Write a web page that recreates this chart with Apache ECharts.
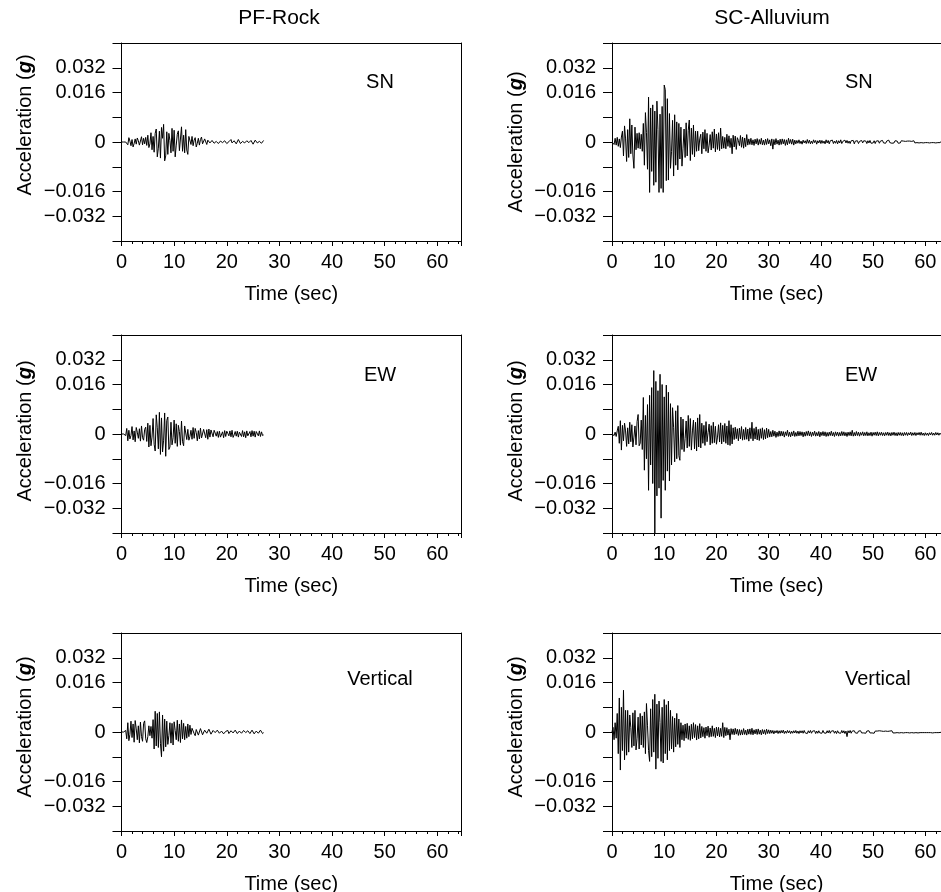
<!DOCTYPE html>
<html><head><meta charset="utf-8">
<script src="https://cdn.jsdelivr.net/npm/echarts@6/dist/echarts.min.js"></script>
<style>html,body{margin:0;padding:0;background:#fff}#c{width:941px;height:892px}</style>
</head><body><div id="c"></div><script>
// sample interval of the records (s)
const dt = 0.2;
// column titles and component names
const columnTitles = ['PF-Rock', 'SC-Alluvium'];
const componentNames = ['SN', 'EW', 'Vertical'];
// y tick values (units of 1e-4 g) and the labels printed at them
const yTickValues = [-240, -160, 0, 160, 240];
const yTickLabels = ['\u22120.032', '\u22120.016', '0', '0.016', '0.032'];
const xAxisName = 'Time (sec)';

// acceleration records, units of 1e-4 g, one value every dt seconds from t = 0
const pfRockSN = [0,0,0,0,0,
 6,-9,14,3,-12,8,-16,-5,10,-7,13,4,-10,-14,17,-9,12,-6,15,-11,
 22,-18,-6,30,-25,18,-33,28,
 42,-48,-20,35,-52,47,12,57,-61,-45,
 33,-40,28,5,-35,44,-30,38,-48,-10,25,36,-28,
 -24,49,-30,22,-35,40,-26,-40,18,
 15,-8,18,-12,6,14,-16,-4,12,-10,8,16,-6,-12,10,4,
 -8,6,9,-3,-7,5,8,-4,-6,2,7,-5,-8,3,9,-2,-6,4,7,-5,-9,1,6,8,-3,-7,4,5,-6,-4,
 8,3,-5,-7,2,6,-3,-8,4,9,-2,-6,5,3,-7,-4,6,8,-3,-5,2,7,-4,-2,5];

const pfRockEW = [0,0,0,2,-5,
 18,-22,12,-16,-5,24,-19,10,-25,21,6,-14,17,-23,26,-12,-20,15,22,-24,
 35,-42,28,-38,-10,50,-33,-55,
 62,20,-48,70,-66,52,-58,-20,68,-72,44,55,-50,
 -42,38,-35,-12,45,-30,33,-40,28,8,-36,42,-25,-38,26,
 22,-18,15,-20,-8,12,-17,21,-14,18,5,-22,11,-16,19,-13,-18,15,20,-12,14,-17,16,-10,13,
 10,-9,12,3,-7,8,-11,9,-10,-4,7,-12,11,-8,9,2,-6,10,-9,12,-11,-3,8,-7,9,
 -10,6,4,-8,11,-9,7,-12,10,-6,-2,8,-9,11,-7,9,-10,8,3,-6,10,-8,7,-5,-3];

const pfRockVertical = [0,0,0,0,
 5,-22,30,-28,-8,35,-18,26,-33,37,10,-25,20,-35,32,-15,-30,28,36,-22,-34,
 -15,20,-12,18,-20,
 40,-55,67,-45,60,
 -50,65,-38,-80,55,-62,42,-48,
 35,-40,-12,30,-36,28,-42,33,5,-25,38,-30,26,
 -34,39,-22,28,-25,18,-20,26,-15,22,
 -8,12,16,-5,-12,8,14,-10,-6,11,15,-9,-13,6,12,-4,-10,9,13,-7,
 -9,5,10,-2,-8,6,9,-4,-7,3,8,-6,-9,2,7,5,-5,-8,4,9,-3,-6,6,8,-5,
 -7,3,6,-4,-8,5,7,-2,-6,4,8,-5,-3,6,4,-6,-7,3,5,-4,-2,6,3,-5,-2];

const scAlluviumSN = [0,5,-8,12,-10,15,-14,10,-18,16,
 35,-45,52,10,-63,40,-50,75,-38,55,-42,-85,48,
 -25,28,-20,30,-22,25,-30,
 60,-75,95,30,-88,145,-163,110,-95,120,
 -140,100,-130,132,40,-163,90,-150,115,-163,184,169,-125,
 140,-123,92,-85,-30,70,-110,88,-75,65,
 -90,60,-55,48,-78,-20,42,-50,62,-45,38,71,-60,45,-40,
 55,-48,35,-30,35,-28,10,25,-38,32,-22,40,-30,28,-35,-10,24,-26,33,-20,42,-32,26,
 -24,30,-28,45,-22,18,-20,15,-22,25,-14,20,-18,12,-38,22,-16,19,-24,14,5,-12,21,-17,16,-20,13,-15,24,-10,
 10,-8,12,-9,7,-11,9,-6,11,-10,8,-7,12,-9,6,-10,9,-8,11,-6,7,-12,10,-23,8,
 -9,11,-7,6,-10,9,-8,10,-6,8,-11,7,-9,12,-5,8,-7,9,-10,6,
 -6,5,-4,7,-5,3,-7,6,-3,4,
 -5,8,-4,6,-6,3,-5,7,-2,5,
 -7,4,-3,6,-5,5,-4,3,-6,7,
 -3,5,-6,4,-2,6,-5,3,-4,5,
 -6,4,-3,7,-5,2,-4,6,-3,5,
 -4,3,-5,4,-2,5,-6,3,-3,4,
 -5,2,-4,5,-3,4,-2,3,-5,4,
 -3,5,-4,2,-3,4,-5,3,-2,4,
 -4,3,-2,5,-3,2,-4,3,-3,6,
 -2,3,-4,2,-3,4,-2,3,-4,2,
 -3,4,-2,3,-3,2,-4,3,-2,3,
 -3,2,-2,4,-3,3,-2,2,-3,3,
 -2,3,-3,2,-2,3,-2,4,-3,2,
 -2,3,-2,2,-3,2,-2,3,-2,1];

const scAlluviumEW = [0,3,-5,6,-8,10,
 25,-30,43,-52,28,-22,35,10,-40,20,-32,38,-25,30,-42,-10,26,-35,40,63,-38,-30,
 45,-50,118,-117,60,
 -80,95,-182,125,-100,
 150,-160,205,-320,170,-200,140,-175,
 193,-272,160,-150,120,
 -182,158,-120,135,-152,
 98,-100,85,20,-90,75,-80,92,-70,-85,
 55,-50,48,-57,-15,42,-45,60,-40,50,-52,10,45,-48,38,-55,52,-42,63,-45,
 35,-30,28,-37,40,-25,5,32,-35,27,-30,38,-28,25,-33,-10,30,-26,36,-32,28,-25,34,-30,26,-35,43,-37,30,-32,
 20,-18,22,-15,17,-22,19,-16,24,-20,15,-18,21,-17,16,-23,20,-15,38,-22,18,-16,23,-19,15,-21,17,-14,20,-18,14,-16,19,-12,15,
 -10,8,-9,12,-7,9,-11,6,-8,10,
 -7,9,-6,8,-10,7,-5,12,-8,6,
 -9,7,-6,10,-8,5,-7,9,-6,8,
 -5,7,-9,6,-7,8,-5,10,-6,7,
 -8,6,-5,9,-7,5,-6,8,-9,6,
 -5,8,-6,7,-8,5,-7,6,-5,9,
 -6,5,-8,7,-5,6,-7,5,-6,8,
 -5,7,-6,5,-8,6,-5,7,-6,12,
 -7,5,-6,8,-5,6,-7,5,-4,7,
 -6,5,-5,7,-6,4,-5,6,-7,5,
 -4,6,-5,7,-6,5,-4,6,-5,4,
 -6,5,-4,6,-5,4,-6,5,-4,6,
 -5,4,-6,5,-4,5,-5,4,-6,5,
 -4,5,-5,4,-3,6,-5,4,-4,5,
 -5,4,-3,5,-4,6,-4,3,-5,4,
 -4,3,-5,4,-3,5,-4,3,-4,5,
 -3,4,-4,3,-2];

const scAlluviumVertical = [0,15,-25,30,-20,
 60,-70,110,-123,80,-60,135,-90,70,-75,
 70,-65,55,15,-50,62,-45,70,-58,-20,48,-55,60,-42,52,
 -50,65,-70,92,20,-60,-95,75,-80,105,
 -65,122,-120,90,-85,100,30,-95,80,-100,105,-70,88,
 -90,100,-60,70,-55,50,-65,45,-48,60,-40,42,-50,
 30,-25,22,-28,26,-20,28,-24,20,-27,25,-22,30,-18,24,-26,20,-22,27,-19,
 18,-15,14,-20,16,-12,19,-17,13,-15,20,-14,12,-18,16,-13,15,-16,12,-14,30,-18,15,-12,14,
 -10,9,-25,11,-8,10,-9,12,-7,9,-11,8,-10,7,-9,11,-8,6,-10,9,
 -7,10,-8,12,-9,7,-6,9,-8,10,-7,6,-9,8,-6,7,-8,9,-5,7,
 -5,6,-4,5,-6,4,-3,5,-5,4,
 -4,5,-3,6,-5,3,-4,5,-3,4,
 -5,3,-4,4,-3,5,-4,3,-5,4,
 -3,4,-4,5,-3,3,-5,4,-3,5,
 -4,3,-3,4,-5,3,-4,4,-3,3,
 -4,5,-3,3,-4,4,-3,5,-4,3,
 -3,4,-4,3,-5,4,-3,3,-4,5,
 -3,4,-5,3,-15,4,-3,5,-4,3,
 -3,4,-3,3,-4,3,-3,4,-3,2,
 -3,3,-4,3,-2,4,-3,3,-3,2,
 -4,3,-2,3,-3,4,-2,3,-3,2,
 -2,3,-3,2,-3,3,-2,4,-3,2,
 -3,2,-2,3,-3,2,-2,3,-3,2,
 -2,3,-2,2,-3,3,-2,2,-3,2,
 -2,2,-3,2,-2,3,-2,2,-2,3,
 -2,2,-2,3,-2,2,-3,2,-2,2,
 -2,3,-2,2,-1];

// ---------- layout ----------
const FONT = '"Liberation Sans", Arial, Helvetica, sans-serif';
const cols = [
  {left: 121.5, width: 339.5, max: 64.5, rightBorder: true, titleX: 279, labelX: 380, labelAlign: 'center'},
  {left: 612, width: 329, max: 63, rightBorder: false, titleX: 772, labelX: 845, labelAlign: 'left'}
];
const rowTops = [43, 335, 633];
const rowLabelDy = [39, 40, 46];
const H = 198;

const panels = [
  {col: 0, row: 0, data: pfRockSN, nameShift: 34},
  {col: 1, row: 0, data: scAlluviumSN, nameShift: 0},
  {col: 0, row: 1, data: pfRockEW, nameShift: 6},
  {col: 1, row: 1, data: scAlluviumEW, nameShift: 6},
  {col: 0, row: 2, data: pfRockVertical, nameShift: 10},
  {col: 1, row: 2, data: scAlluviumVertical, nameShift: 10}
];

const grid = [], xAxis = [], yAxis = [], series = [], graphic = [];
const black = {color: '#000', width: 1};

panels.forEach((p, k) => {
  const c = cols[p.col];
  grid.push({left: c.left, top: rowTops[p.row], width: c.width, height: H,
    containLabel: false, outerBoundsMode: 'none', show: false});
  xAxis.push({type: 'value', gridIndex: k, position: 'bottom', min: 0, max: c.max, interval: 10,
    axisLine: {show: true, onZero: false, lineStyle: black},
    axisTick: {show: true, inside: false, length: 5, lineStyle: black},
    minorTick: {show: true, splitNumber: 5, length: 3, lineStyle: black},
    splitLine: {show: false}, minorSplitLine: {show: false},
    axisLabel: {show: true, margin: 11, color: '#000', fontSize: 20, fontFamily: FONT,
      formatter: v => (Math.abs(v % 10) < 1e-9 ? String(v) : '')},
    name: xAxisName, nameLocation: 'middle', nameGap: 43,
    nameTextStyle: {color: '#000', fontSize: 20, fontFamily: FONT}
  });
  xAxis.push({type: 'value', gridIndex: k, position: 'top', min: 0, max: c.max,
    axisLine: {show: true, onZero: false, lineStyle: black},
    axisTick: {show: false}, axisLabel: {show: false}, splitLine: {show: false}
  });
  yAxis.push({type: 'value', gridIndex: k, position: 'left', min: -320, max: 320, interval: 80,
    axisLine: {show: true, onZero: false, lineStyle: black},
    axisTick: {show: true, inside: false, length: 9, lineStyle: black},
    splitLine: {show: false},
    axisLabel: {show: true, margin: 16, color: '#000', fontSize: 20, fontFamily: FONT,
      formatter: v => { const j = yTickValues.indexOf(Math.round(v)); return j < 0 ? '' : yTickLabels[j]; }},
    name: '{a|Acceleration (}{b|g}{a|)}', nameLocation: 'middle', nameGap: 86, nameRotate: 90,
    nameTextStyle: {color: '#000', fontSize: 20, fontFamily: FONT, padding: [0, 0, 0, p.nameShift],
      rich: {a: {color: '#000', fontSize: 20, fontFamily: FONT},
             b: {color: '#000', fontSize: 20, fontFamily: FONT, fontWeight: 'bold', fontStyle: 'italic'}}}
  });
  yAxis.push({type: 'value', gridIndex: k, position: 'right', min: -320, max: 320,
    axisLine: {show: c.rightBorder, onZero: false, lineStyle: black},
    axisTick: {show: false}, axisLabel: {show: false}, splitLine: {show: false}
  });
  series.push({type: 'line', xAxisIndex: 2 * k, yAxisIndex: 2 * k,
    data: p.data.map((v, i) => [Math.round(i * dt * 10) / 10, v]),
    showSymbol: false, symbol: 'none', clip: true, silent: true,
    lineStyle: {color: '#000', width: 1}, sampling: null, animation: false
  });
  graphic.push({type: 'text', silent: true,
    style: {text: componentNames[p.row], x: c.labelX, y: rowTops[p.row] + rowLabelDy[p.row],
      textAlign: c.labelAlign, textVerticalAlign: 'middle', fill: '#000',
      font: '20px ' + FONT}});
});

cols.forEach((c, j) => {
  graphic.push({type: 'text', silent: true,
    style: {text: columnTitles[j], x: c.titleX, y: 18, textAlign: 'center', textVerticalAlign: 'middle',
      fill: '#000', font: '21px ' + FONT}});
});

const chart = echarts.init(document.getElementById('c'), null, {renderer: 'canvas'});
chart.setOption({animation: false, backgroundColor: '#fff', grid, xAxis, yAxis, series, graphic});
</script></body></html>
